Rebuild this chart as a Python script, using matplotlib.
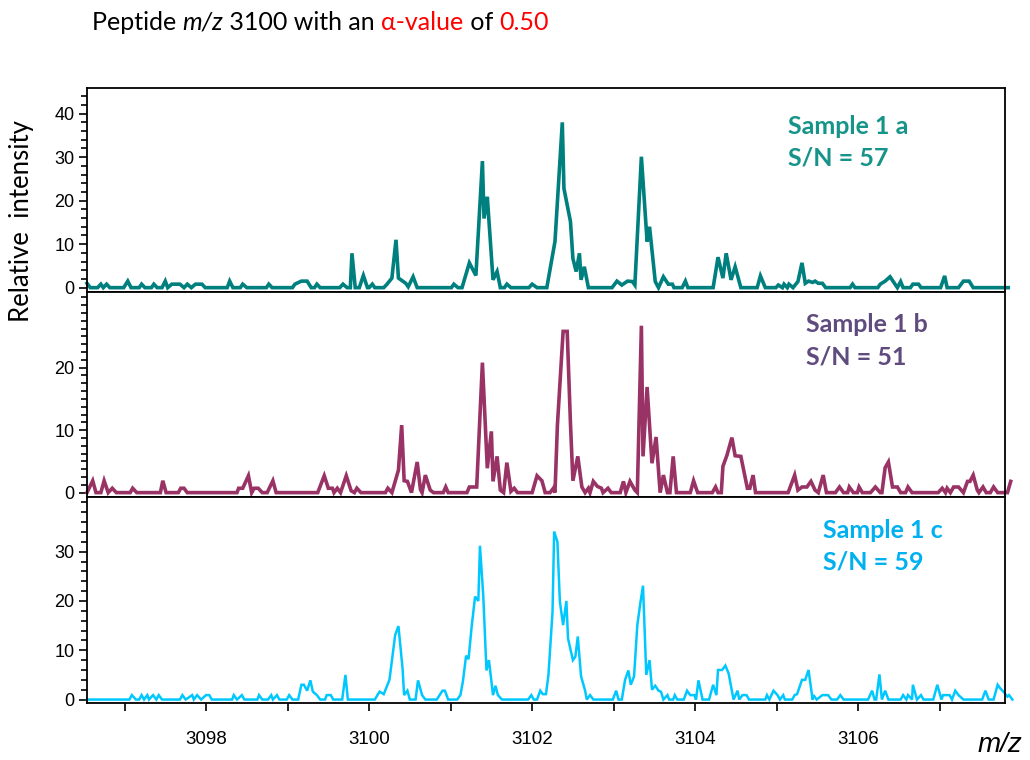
import matplotlib.pyplot as plt
from matplotlib.ticker import MultipleLocator
from matplotlib import transforms

# m/z and relative intensity
mz_a = [3096.54, 3096.58, 3096.67, 3096.71, 3096.74, 3096.78, 3096.82, 3096.99, 3097.04, 3097.08,
        3097.18, 3097.21, 3097.25, 3097.33, 3097.36, 3097.40, 3097.46, 3097.50, 3097.53, 3097.58,
        3097.68, 3097.73, 3097.77, 3097.82, 3097.87, 3097.95, 3097.99, 3098.26, 3098.29, 3098.33,
        3098.42, 3098.45, 3098.50, 3098.74, 3098.77, 3098.81, 3099.06, 3099.09, 3099.17, 3099.24,
        3099.29, 3099.33, 3099.36, 3099.40, 3099.64, 3099.68, 3099.73, 3099.77, 3099.79, 3099.83,
        3099.88, 3099.93, 3099.98, 3100.00, 3100.04, 3100.07, 3100.18, 3100.22, 3100.28, 3100.33,
        3100.36, 3100.42, 3100.45, 3100.48, 3100.54, 3100.59, 3101.01, 3101.04, 3101.09, 3101.14,
        3101.23, 3101.31, 3101.39, 3101.41, 3101.45, 3101.52, 3101.57, 3101.61, 3101.66, 3101.69,
        3101.74, 3101.96, 3102.00, 3102.06, 3102.18, 3102.28, 3102.37, 3102.39, 3102.47, 3102.50,
        3102.54, 3102.58, 3102.60, 3102.64, 3102.69, 3102.98, 3103.04, 3103.10, 3103.17, 3103.23,
        3103.26, 3103.34, 3103.41, 3103.44, 3103.51, 3103.55, 3103.61, 3103.67, 3103.72, 3103.74,
        3103.84, 3103.88, 3103.91, 3104.22, 3104.28, 3104.34, 3104.38, 3104.44, 3104.49, 3104.56,
        3104.76, 3104.80, 3104.86, 3104.99, 3105.02, 3105.07, 3105.09, 3105.13, 3105.15, 3105.20,
        3105.26, 3105.31, 3105.35, 3105.39, 3105.44, 3105.47, 3105.51, 3105.56, 3105.60, 3105.90,
        3105.93, 3105.96, 3106.24, 3106.27, 3106.33, 3106.39, 3106.43, 3106.48, 3106.52, 3106.55,
        3106.64, 3106.67, 3106.74, 3106.77, 3107.01, 3107.06, 3107.09, 3107.23, 3107.29, 3107.36,
        3107.41, 3107.84]
int_a = [1.0, 0, 0, 0.8, 0, 0.8, 0, 0, 1.5, 0,
         0, 0.8, 0, 0, 0.8, 0, 0, 1.5, 0, 0.8,
         0.8, 0, 0.8, 0, 0.8, 0.8, 0, 0, 1.5, 0,
         0, 0.8, 0, 0, 0.8, 0, 0, 0.8, 1.5, 1.5,
         0, 0, 0.8, 0, 0, 0.8, 0, 0, 7.9, 0,
         0, 2.8, 0, 0, 0.8, 0, 0, 0.8, 2.2, 11.0,
         2.2, 1.4, 1.0, 0.2, 2.5, 0, 0, 0.8, 0, 0,
         5.7, 2.8, 29.1, 15.9, 20.9, 1.8, 3.7, 0, 0, 0.8,
         0, 0, 0.8, 0, 0, 10.6, 38.0, 22.8, 15.2, 6.7,
         3.7, 7.9, 1.8, 4.8, 0, 0, 1.5, 0.6, 1.5, 1.4,
         0.6, 30.1, 10.6, 14.0, 1.4, 0, 2.5, 0.8, 0.8, 0,
         0, 1.5, 0, 0, 7.0, 2.2, 7.9, 1.8, 4.8, 0,
         0, 2.7, 0, 0, 0.6, 0, 0.8, 0, 0.8, 0,
         1.4, 5.7, 1.0, 1.5, 1.2, 1.5, 1.0, 1.0, 0, 0,
         0.8, 0, 0, 0.8, 1.5, 2.5, 1.4, 0, 1.4, 0,
         0, 0.8, 0.8, 0, 0, 2.7, 0, 0, 1.5, 1.5,
         0, 0]

mz_b = [3096.54, 3096.61, 3096.65, 3096.71, 3096.75, 3096.80, 3096.85, 3096.90, 3097.07, 3097.10,
        3097.15, 3097.44, 3097.47, 3097.51, 3097.66, 3097.69, 3097.73, 3097.77, 3098.38, 3098.40,
        3098.45, 3098.52, 3098.56, 3098.59, 3098.64, 3098.69, 3098.75, 3098.82, 3098.86, 3099.37,
        3099.45, 3099.50, 3099.55, 3099.57, 3099.61, 3099.65, 3099.72, 3099.78, 3099.82, 3099.85,
        3099.90, 3100.20, 3100.23, 3100.28, 3100.36, 3100.40, 3100.43, 3100.47, 3100.52, 3100.59,
        3100.63, 3100.65, 3100.69, 3100.75, 3100.79, 3100.91, 3100.94, 3100.97, 3101.20, 3101.23,
        3101.32, 3101.39, 3101.45, 3101.50, 3101.52, 3101.57, 3101.61, 3101.65, 3101.69, 3101.74,
        3101.78, 3101.82, 3102.00, 3102.06, 3102.12, 3102.16, 3102.22, 3102.26, 3102.28, 3102.31,
        3102.38, 3102.43, 3102.47, 3102.50, 3102.56, 3102.61, 3102.65, 3102.69, 3102.71, 3102.75,
        3102.80, 3102.85, 3102.87, 3102.93, 3102.97, 3103.08, 3103.12, 3103.15, 3103.20, 3103.26,
        3103.29, 3103.34, 3103.36, 3103.41, 3103.47, 3103.52, 3103.57, 3103.61, 3103.66, 3103.69,
        3103.73, 3103.77, 3103.94, 3103.98, 3104.03, 3104.21, 3104.25, 3104.28, 3104.32, 3104.34,
        3104.39, 3104.45, 3104.49, 3104.56, 3104.64, 3104.67, 3104.71, 3104.74, 3105.14, 3105.22,
        3105.26, 3105.31, 3105.37, 3105.42, 3105.47, 3105.51, 3105.57, 3105.61, 3105.72, 3105.77,
        3105.82, 3105.87, 3105.89, 3105.94, 3105.99, 3106.01, 3106.05, 3106.15, 3106.21, 3106.27,
        3106.29, 3106.33, 3106.37, 3106.42, 3106.48, 3106.52, 3106.58, 3106.61, 3106.66, 3106.98,
        3107.03, 3107.07, 3107.09, 3107.13, 3107.17, 3107.23, 3107.29, 3107.34, 3107.37, 3107.41,
        3107.46, 3107.48, 3107.53, 3107.57, 3107.62, 3107.66, 3107.71, 3107.83, 3107.87]
int_b = [0, 1.9, 0, 0, 1.9, 0, 0.7, 0, 0, 0.7,
         0, 0, 1.9, 0, 0, 0.7, 0.7, 0, 0, 0.7,
         0.7, 2.7, 0, 0.7, 0.7, 0, 0, 1.9, 0, 0,
         2.7, 0.7, 0.7, 0, 0.7, 0, 2.7, 0.3, 0, 0.7,
         0, 0, 0.7, 0, 3.6, 10.8, 1.9, 1.8, 0, 4.9,
         0.5, 0, 2.8, 0.4, 0, 0, 0.9, 0, 0, 0.9,
         0.9, 20.8, 3.9, 9.8, 1.8, 5.8, 0.4, 0, 4.8, 0.2,
         0.7, 0, 0, 2.7, 1.9, 0, 0, 0.7, 0, 10.8,
         25.8, 25.8, 11.1, 1.9, 5.8, 0.9, 0, 0.7, 0, 1.8,
         1.0, 0.7, 0, 0.7, 0, 0, 1.8, 0, 1.8, 0.4,
         0, 26.7, 5.8, 16.9, 4.7, 8.9, 0, 2.8, 0, 0,
         5.8, 0, 0, 1.9, 0, 0, 0.9, 0, 0, 4.2,
         6.0, 8.8, 5.9, 5.8, 0.7, 0.7, 2.8, 0, 0, 2.8,
         0.4, 0.9, 0.9, 1.8, 0.4, 0, 2.8, 0, 0, 0.9,
         0, 0, 0.9, 0, 0, 0.9, 0, 0, 0.9, 0,
         0, 4.0, 4.9, 0.9, 0.9, 0, 0, 0.9, 0, 0,
         0.7, 0, 0.7, 0, 0.9, 0.9, 0, 1.8, 1.8, 2.8,
         0.4, 0, 0.9, 0, 0, 0.9, 0, 0, 1.8]

mz_c = [3096.54, 3097.06, 3097.09, 3097.14, 3097.18, 3097.21, 3097.24, 3097.28, 3097.30, 3097.35,
        3097.39, 3097.42, 3097.46, 3097.68, 3097.71, 3097.75, 3097.83, 3097.85, 3097.89, 3097.94,
        3098.00, 3098.04, 3098.07, 3098.32, 3098.34, 3098.38, 3098.44, 3098.47, 3098.63, 3098.65,
        3098.69, 3098.76, 3098.80, 3098.82, 3098.87, 3098.90, 3098.99, 3099.02, 3099.06, 3099.13,
        3099.17, 3099.20, 3099.24, 3099.28, 3099.31, 3099.36, 3099.40, 3099.46, 3099.48, 3099.53,
        3099.56, 3099.67, 3099.71, 3099.74, 3100.07, 3100.11, 3100.13, 3100.18, 3100.25, 3100.32,
        3100.36, 3100.41, 3100.43, 3100.47, 3100.50, 3100.57, 3100.60, 3100.65, 3100.69, 3100.83,
        3100.90, 3100.93, 3100.97, 3101.08, 3101.12, 3101.15, 3101.19, 3101.22, 3101.26, 3101.30,
        3101.34, 3101.36, 3101.40, 3101.44, 3101.47, 3101.52, 3101.55, 3101.58, 3101.63, 3101.95,
        3101.99, 3102.02, 3102.06, 3102.10, 3102.13, 3102.17, 3102.20, 3102.25, 3102.27, 3102.31,
        3102.34, 3102.38, 3102.42, 3102.44, 3102.50, 3102.53, 3102.56, 3102.60, 3102.65, 3102.67,
        3102.71, 3102.75, 3102.99, 3103.03, 3103.06, 3103.10, 3103.14, 3103.18, 3103.21, 3103.25,
        3103.29, 3103.33, 3103.36, 3103.40, 3103.44, 3103.47, 3103.51, 3103.55, 3103.58, 3103.61,
        3103.66, 3103.68, 3103.73, 3103.75, 3103.78, 3103.86, 3103.90, 3103.94, 3103.99, 3104.01,
        3104.04, 3104.09, 3104.17, 3104.22, 3104.26, 3104.28, 3104.33, 3104.37, 3104.41, 3104.47,
        3104.52, 3104.54, 3104.58, 3104.63, 3104.66, 3104.86, 3104.88, 3104.91, 3104.96, 3105.01,
        3105.04, 3105.08, 3105.10, 3105.19, 3105.22, 3105.25, 3105.31, 3105.35, 3105.39, 3105.44,
        3105.45, 3105.49, 3105.56, 3105.63, 3105.67, 3105.74, 3105.78, 3105.82, 3106.12, 3106.17,
        3106.20, 3106.22, 3106.26, 3106.29, 3106.33, 3106.37, 3106.52, 3106.55, 3106.59, 3106.61,
        3106.66, 3106.67, 3106.72, 3106.77, 3106.80, 3106.92, 3106.97, 3107.02, 3107.04, 3107.12,
        3107.15, 3107.19, 3107.23, 3107.29, 3107.52, 3107.56, 3107.60, 3107.66, 3107.71, 3107.74,
        3107.78, 3107.83, 3107.85, 3107.89]
int_c = [0, 0, 0.9, 0, 0, 0.9, 0, 0.9, 0, 0.9,
         0, 0.9, 0, 0, 0.9, 0, 0.9, 0, 0.9, 0,
         0.9, 0.9, 0, 0, 0.9, 0, 0.9, 0, 0, 0.9,
         0, 0, 0.9, 0, 0.9, 0, 0, 0.9, 0, 0,
         3.0, 3.0, 1.8, 3.9, 1.6, 0.9, 0, 0, 0.9, 0.9,
         0, 0, 5.0, 0, 0, 1.1, 1.6, 1.1, 4.0, 13.1,
         14.9, 6.4, 0.9, 1.8, 0, 0, 3.9, 0.9, 0, 0,
         1.8, 1.8, 0, 0, 0.9, 3.6, 8.9, 8.2, 15.1, 20.9,
         20.0, 31.2, 21.2, 5.9, 8.0, 0.9, 2.8, 0.9, 0, 0,
         0.9, 0, 0, 1.8, 1.1, 1.1, 5.0, 17.8, 34.1, 32.0,
         19.9, 15.1, 20.0, 12.4, 8.0, 8.7, 12.8, 4.7, 1.8, 0,
         0.9, 0, 0, 1.8, 0, 0, 4.0, 5.9, 3.0, 4.7,
         15.1, 19.9, 23.1, 5.0, 8.0, 2.0, 2.8, 1.8, 1.6, 0,
         0.9, 0, 0, 0.9, 0, 0, 1.8, 0.9, 0.9, 0,
         3.9, 0, 0, 3.0, 0.9, 6.0, 6.0, 6.9, 5.3, 0,
         1.8, 0, 0.9, 0.9, 0, 0, 0.9, 0, 1.8, 0.9,
         0, 0.9, 0, 0, 0.9, 1.1, 4.0, 4.0, 6.0, 0,
         0.9, 0, 0.9, 0.9, 0, 0, 0.9, 0, 0, 1.8,
         0, 0, 5.1, 0, 1.8, 0, 0, 0.9, 0, 0.9,
         0, 3.0, 0, 0.9, 0, 0, 3.0, 0, 0.9, 0.9,
         0, 1.8, 0.9, 0, 0, 1.8, 0, 0, 3.0, 2.3,
         1.6, 0.6, 0.9, 0]

samples = ['Sample 1 a', 'Sample 1 b', 'Sample 1 c']
sn_values = [57, 51, 59]
y_majors = [[0, 10, 20, 30, 40], [0, 10, 20], [0, 10, 20, 30]]
x_ticks = [3098, 3100, 3102, 3104, 3106]

W, H = 1030, 760
fig = plt.figure(figsize=(W / 100, H / 100), dpi=100)

calib = ['Lato', 'DejaVu Sans']
arial = ['Liberation Sans', 'DejaVu Sans']


def box(top, bottom):
    # pixel edges -> figure fraction
    return [87 / W, 1 - bottom / H, (1005 - 87) / W, (bottom - top) / H]


panels = [
    dict(rect=box(88, 292), x=mz_a, y=int_a, lw=2.6, line='#007f7f', lab='#179489',
         ylim=(-1.0, 45.9), minor=2, tx=788, ty=126),
    dict(rect=box(292, 497), x=mz_b, y=int_b, lw=2.6, line='#993366', lab='#5f4b7e',
         ylim=(-0.7, 32.1), minor=1.25, tx=806, ty=325),
    dict(rect=box(497, 703), x=mz_c, y=int_c, lw=1.8, line='#00c8ff', lab='#00b0f0',
         ylim=(-0.7, 41.1), minor=2, tx=823, ty=530),
]

axes = []
for i, p in enumerate(panels):
    ax = fig.add_axes(p['rect'])
    ax.plot(p['x'], p['y'], color=p['line'], lw=p['lw'], clip_on=False,
            solid_joinstyle='miter')
    ax.set_xlim(3096.54, 3107.80)
    ax.set_ylim(*p['ylim'])
    ax.set_yticks(y_majors[i])
    ax.yaxis.set_minor_locator(MultipleLocator(p['minor']))
    ax.tick_params(axis='y', which='both', direction='out', width=1.2, color='black',
                   labelsize=13, pad=3)
    ax.tick_params(axis='y', which='major', length=6)
    ax.tick_params(axis='y', which='minor', length=4)
    for lab in ax.get_yticklabels():
        lab.set_fontfamily(arial)
    for s in ax.spines.values():
        s.set_linewidth(1.3)
        s.set_color('black')
    if i < 2:
        ax.tick_params(axis='x', which='both', bottom=False, labelbottom=False)
    else:
        ax.set_xticks(x_ticks)
        ax.xaxis.set_minor_locator(MultipleLocator(1))
        ax.tick_params(axis='x', which='both', direction='out', length=6, width=1.2,
                       labelsize=13.5, pad=14)
        for lab in ax.get_xticklabels():
            lab.set_fontfamily(arial)
    fig.text(p['tx'] / W, 1 - p['ty'] / H, samples[i], color=p['lab'], fontsize=18,
             fontweight='bold', family=calib, va='center', ha='left')
    fig.text(p['tx'] / W, 1 - (p['ty'] + 32) / H, 'S/N = %d' % sn_values[i], color=p['lab'],
             fontsize=18, fontweight='bold', family=calib, va='center', ha='left')
    axes.append(ax)

# title, written piece by piece so the colours can change mid-line
pieces = [('Peptide ', 'black', 'normal'), ('m/z', 'black', 'italic'),
          (' 3100 with an ', 'black', 'normal'), ('α-value', 'red', 'normal'),
          (' of ', 'black', 'normal'), ('0.50', 'red', 'normal')]
renderer = fig.canvas.get_renderer()
trans = fig.transFigure
for txt, col, style in pieces:
    t = fig.text(92 / W, 1 - 22 / H, txt, color=col, style=style, fontsize=18,
                 family=calib, va='center', ha='left', transform=trans)
    t.draw(renderer)
    ext = t.get_window_extent(renderer)
    trans = transforms.offset_copy(t.get_transform(), fig=fig, x=ext.width, units='dots')

fig.text(22 / W, 1 - 221 / H, 'Relative  intensity', rotation=90, fontsize=18.5,
         family=calib, va='center', ha='center')
fig.text(1022 / W, 1 - 745 / H, 'm/z', style='italic', fontsize=20, family=arial,
         va='center', ha='right')

fig.savefig('out.png', dpi=100)
